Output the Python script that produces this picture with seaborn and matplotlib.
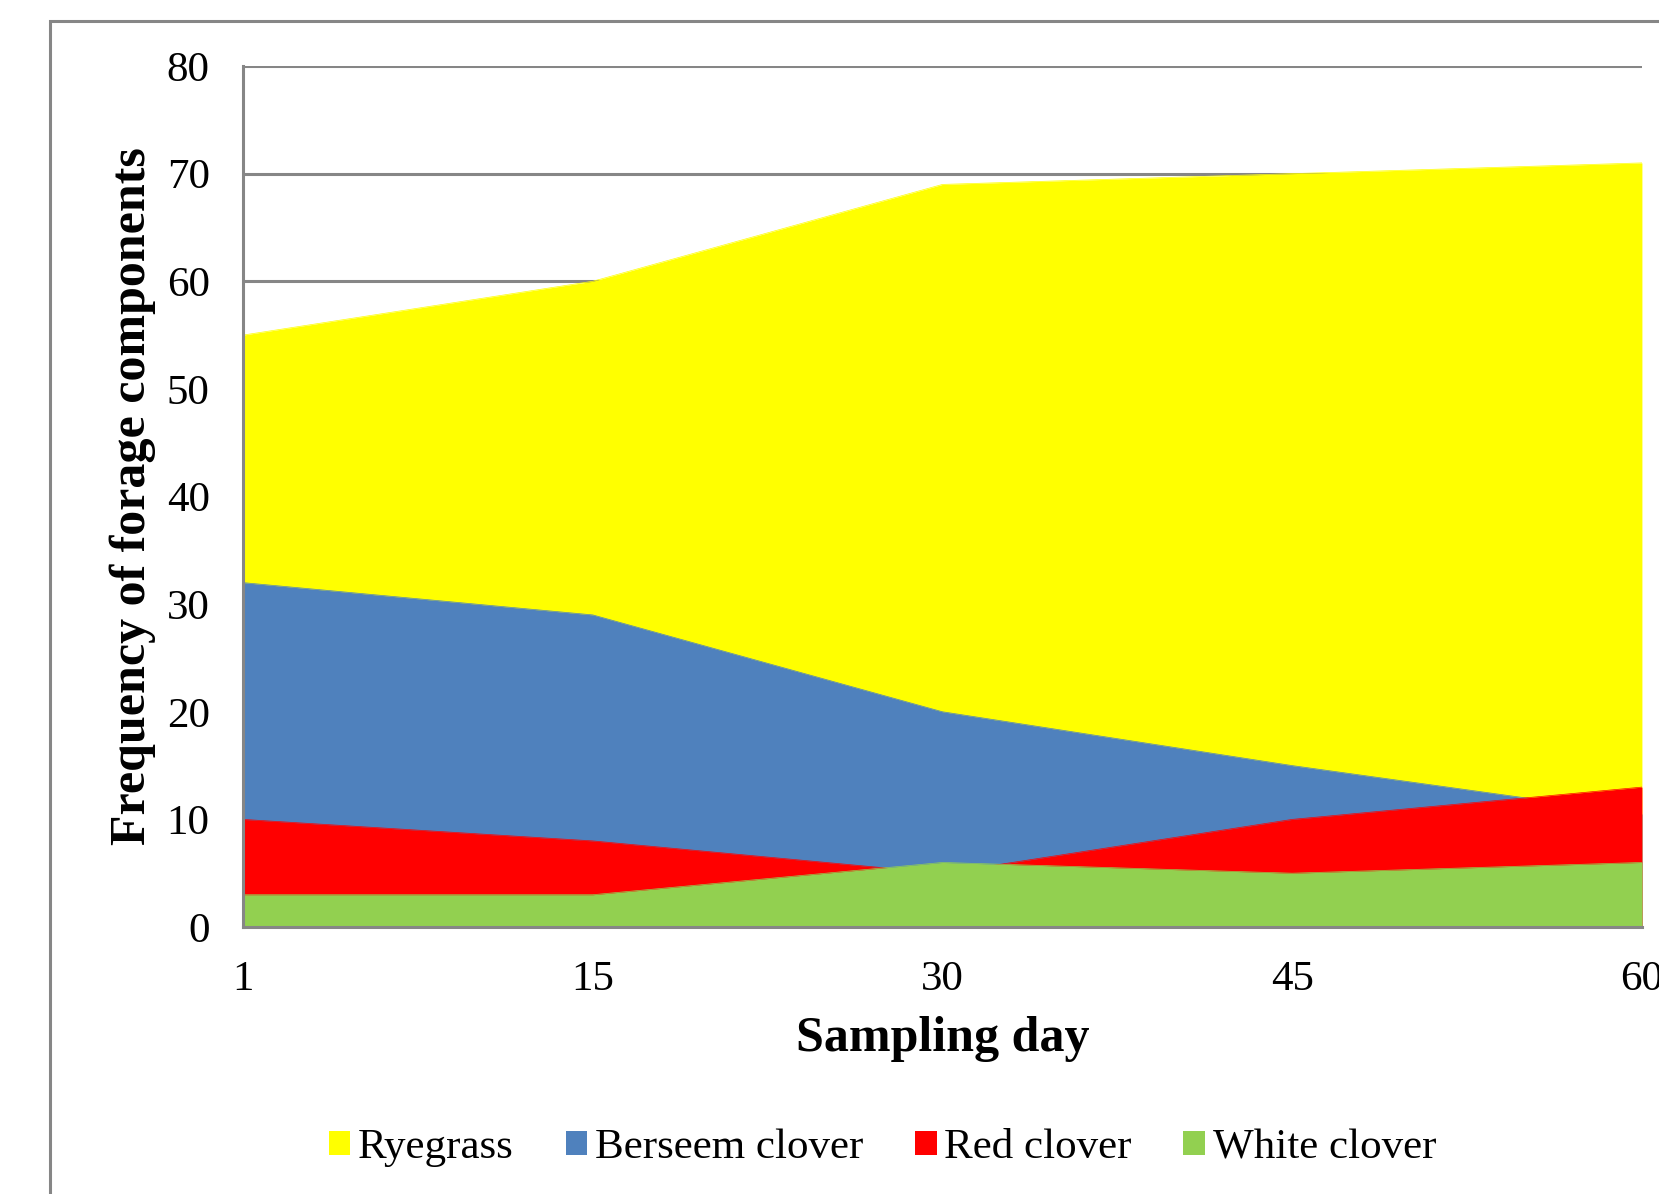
import matplotlib
matplotlib.use("Agg")
import matplotlib.pyplot as plt
import seaborn as sns
import numpy as np
import pandas as pd
from matplotlib.patches import Rectangle

days = ["1", "15", "30", "45", "60"]
ryegrass = [55, 60, 69, 70, 71]
berseem = [32, 29, 20, 15, 10.5]
red_clover = [10, 8, 5, 10, 13]
white_clover = [3, 3, 6, 5, 6]

series_names = ["Ryegrass", "Berseem clover", "Red clover", "White clover"]
series_vals = [ryegrass, berseem, red_clover, white_clover]
colors = ["#FFFF00", "#4F81BD", "#FF0000", "#92D050"]

df = pd.DataFrame({"day": days, **{n: v for n, v in zip(series_names, series_vals)}})

sns.set_theme(style="white")
plt.rcParams["font.family"] = ["Liberation Serif", "DejaVu Serif"]
plt.rcParams["text.color"] = "black"
plt.rcParams["axes.labelcolor"] = "black"

fig = plt.figure(figsize=(16.59, 11.94), dpi=100)
ax = fig.add_axes([0.1465, 0.2236, 0.8432, 0.7211])

# outer chart border
fig.patches.append(Rectangle((0.030, -0.1), 1.2, 1.082, transform=fig.transFigure,
                             fill=False, edgecolor="#868686", linewidth=2.2, zorder=0))

x = np.arange(len(days))
for i, (name, col) in enumerate(zip(series_names, colors)):
    ax.fill_between(x, 0, df[name].values, color=col, linewidth=0, zorder=2 + i)
    sns.lineplot(x=x, y=df[name].values, ax=ax, color=col, linewidth=0.5,
                 zorder=2 + i, legend=False)

ax.set_xlim(0, len(days) - 1)
ax.set_ylim(0, 80)
ax.set_yticks(np.arange(0, 81, 10))
ax.set_xticks(x)
ax.set_xticklabels(days)
ax.yaxis.grid(True, color="#868686", linewidth=2.2, zorder=1)
ax.xaxis.grid(False)
ax.set_axisbelow(True)

for s in ["top", "right"]:
    ax.spines[s].set_visible(False)
for s in ["left", "bottom"]:
    ax.spines[s].set_color("#868686")
    ax.spines[s].set_linewidth(2.2)
    ax.spines[s].set_zorder(10)

ax.tick_params(axis="both", which="both", direction="out", length=11, width=2.2,
               color="#868686", labelsize=31, labelcolor="black")
ax.tick_params(axis="y", pad=13)
ax.tick_params(axis="x", pad=13)
for lbl in ax.get_xticklabels():
    lbl.set_clip_on(False)

ax.set_xlabel("Sampling day", fontsize=36, fontweight="bold", labelpad=12, color="black")
ax.set_ylabel("Frequency of forage components", fontsize=36, fontweight="bold",
              labelpad=8, color="black")

handles = [Rectangle((0, 0), 1, 1, facecolor=c, edgecolor="none") for c in colors]
fig.legend(handles, series_names, loc="center", bbox_to_anchor=(0.532, 0.0385), ncol=4,
           frameon=False, fontsize=31, handlelength=0.5, handleheight=0.5,
           handletextpad=0.18, columnspacing=1.2)

fig.savefig("out.png", dpi=100)
